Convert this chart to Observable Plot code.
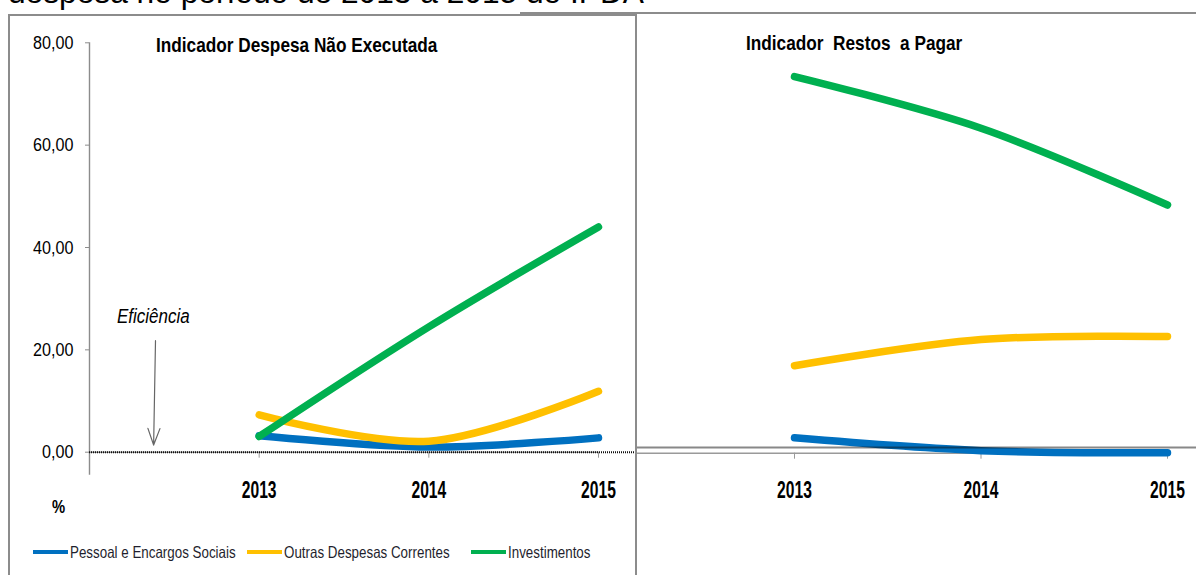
<!DOCTYPE html>
<html>
<head>
<meta charset="utf-8">
<script src="https://cdn.jsdelivr.net/npm/d3@7"></script>
<script src="https://cdn.jsdelivr.net/npm/@observablehq/plot@0.6"></script>
<style>
  html, body { margin: 0; padding: 0; background: #fff; }
  #wrap { position: relative; width: 1196px; height: 575px; overflow: hidden; background: #fff; }
  .txt { position: absolute; white-space: pre; color: #000; transform-origin: 0 0; }
  #leftBox { position: absolute; left: 8px; top: 14px; width: 629px; height: 570px; box-sizing: border-box;
             background: #fff; border-left: 2px solid #8c8c8c; border-top: 2px solid #8c8c8c; border-right: 2px solid #8c8c8c; z-index: 2; }
  #rightBox { position: absolute; left: 520px; top: 12px; width: 700px; height: 570px; box-sizing: border-box;
              background: #fff; border-top: 2px solid #8c8c8c; z-index: 1; }
  .plotHolder { position: absolute; left: 0; top: 0; }
  .legItem { position: absolute; display: flex; align-items: center; }
  .sw { width: 35px; height: 4px; margin-right: 2px; flex: none; }
  .legTxt { display: inline-block; white-space: pre; transform-origin: 0 50%; }
</style>
</head>
<body>
<div id="wrap">
  <div id="rightBox"><div class="plotHolder" id="rightPlot"></div></div>
  <div id="leftBox"><div class="plotHolder" id="leftPlot"></div></div>
</div>
<script>
// ---------- data ----------
const years = [2013, 2014, 2015];
const seriesNames = ["Pessoal e Encargos Sociais", "Outras Despesas Correntes", "Investimentos"];
const seriesColors = ["#0070C0", "#FFC000", "#00B050"];

// Indicador Despesa Não Executada (%)
const pessoalNaoExec = [3.2, 1.0, 2.8];
const outrasNaoExec = [7.3, 2.15, 11.9];
const investNaoExec = [3.07, 24.5, 44.0];

// Indicador Restos a Pagar (%)
const pessoalRestos = [3.0, 0.5, 0.1];
const outrasRestos = [17.1, 22.2, 22.8];
const investRestos = [73.6, 63.5, 48.5];

const yTicks = [0, 20, 40, 60, 80];
const xDomain = [2012, 2015];
const yAxisExtent = [-4.5, 80];
// "Eficiência" annotation arrow (data space of left chart)
const effArrow = [{x1: 2012.389, y1: 21.8, x2: 2012.378, y2: 1.4}];
// dotted efficiency line level as seen in the right chart
const effLevelRight = 1.1;

const titleLeft = "Indicador Despesa Não Executada";
const titleRight = "Indicador  Restos  a Pagar";
const headText = "despesa no período de 2013 a 2015 do IPDA";

// ---------- helpers ----------
const arial = "'Liberation Sans',Arial,sans-serif";
const NARROW = 0.82; // Arial Narrow ≈ Arial compressed horizontally

function rows(a, b, c) {
  const arrs = [a, b, c];
  return arrs.flatMap((arr, i) => arr.map((v, j) => ({year: years[j], value: v, series: seriesNames[i]})));
}
const fmt = d => d.toFixed(2).replace(".", ",");

function addText(parent, text, x, baseline, size, opts = {}) {
  const d = document.createElement("div");
  d.className = "txt";
  d.textContent = text;
  d.style.left = x + "px";
  d.style.fontSize = size + "px";
  d.style.lineHeight = size + "px";
  d.style.fontFamily = arial;
  d.style.fontWeight = opts.weight || "normal";
  d.style.fontStyle = opts.style || "normal";
  if (opts.color) d.style.color = opts.color;
  d.style.top = (baseline - 0.8465 * size) + "px";
  d.style.transform = `scaleX(${opts.sx ?? NARROW})`;
  d.style.zIndex = opts.z ?? 3;
  parent.appendChild(d);
  return d;
}

function squeeze(svg, selector, sx) {
  d3.select(svg).selectAll(selector).each(function () {
    const t = this.getAttribute("transform");
    if (t) {
      this.setAttribute("transform", t + ` scale(${sx},1)`);
    } else {
      const x = +this.getAttribute("x") || 0, y = +this.getAttribute("y") || 0;
      this.removeAttribute("x"); this.removeAttribute("y");
      this.setAttribute("transform", `translate(${x},${y}) scale(${sx},1)`);
    }
  });
}

function chart({data, width, height, xRange, yRange, mt, mb, ml, tickPad, extra}) {
  const svg = Plot.plot({
    width, height,
    marginLeft: ml, marginRight: 0, marginTop: mt, marginBottom: mb,
    style: {fontFamily: arial, fontSize: "19px", color: "black", background: "transparent", overflow: "visible"},
    x: {domain: xDomain, range: xRange},
    y: {domain: [0, 80], range: yRange},
    color: {domain: seriesNames, range: seriesColors},
    marks: [
      ...(extra.before || []),
      Plot.ruleY([0], {x1: xDomain[0], x2: xDomain[1], stroke: "#9a9a9a", strokeWidth: 1.6}),
      Plot.axisX({ticks: years, tickFormat: d => String(d), tickSize: 6, tickPadding: tickPad,
                  fontWeight: "bold", fontSize: 23, stroke: "#9a9a9a", label: null}),
      Plot.line(data, {x: "year", y: "value", z: "series", stroke: "series",
                       strokeWidth: 7.5, curve: "catmull-rom", strokeLinecap: "round"}),
      ...(extra.after || [])
    ]
  });
  squeeze(svg, '[aria-label="x-axis tick label"] text', 0.68);
  squeeze(svg, '[aria-label="y-axis tick label"] text', 0.85);
  return svg;
}

// ---------- left chart ----------
const leftSvg = chart({
  data: rows(pessoalNaoExec, outrasNaoExec, investNaoExec),
  width: 625, height: 559, ml: 79, mt: 26.3, mb: 123.3,
  xRange: [79, 588], yRange: [435.7, 26.3], tickPad: 23,
  extra: {
    before: [
      Plot.ruleX([xDomain[0]], {y1: yAxisExtent[0], y2: yAxisExtent[1], stroke: "#8c8c8c", strokeWidth: 1.4}),
      Plot.axisY({ticks: yTicks, tickFormat: fmt, tickSize: 4, tickPadding: 12, stroke: "#8c8c8c", fontSize: 19, label: null})
    ],
    after: [
      Plot.ruleY([0], {stroke: "#111", strokeWidth: 2, strokeDasharray: "1,1"}),
      Plot.arrow(effArrow, {x1: "x1", y1: "y1", x2: "x2", y2: "y2", stroke: "#666", strokeWidth: 1.2, headAngle: 40, headLength: 22})
    ]
  }
});
document.getElementById("leftPlot").appendChild(leftSvg);

// ---------- right chart ----------
const rightSvg = chart({
  data: rows(pessoalRestos, outrasRestos, investRestos),
  width: 676, height: 561, ml: 87.5, mt: 29.3, mb: 122.3,
  xRange: [87.5, 647], yRange: [438.7, 29.3], tickPad: 22,
  extra: {
    before: [],
    after: [Plot.ruleY([effLevelRight], {stroke: "#111", strokeWidth: 2, strokeDasharray: "1,1"})]
  }
});
document.getElementById("rightPlot").appendChild(rightSvg);

// ---------- texts (page coordinates) ----------
const wrap = document.getElementById("wrap");
addText(wrap, headText, 8, 3.5, 31.7, {sx: 1});
addText(wrap, titleLeft, 156, 52, 21, {weight: "bold"});
addText(wrap, titleRight, 746, 50, 21, {weight: "bold"});
addText(wrap, "%", 52, 513, 18, {weight: "bold"});
addText(wrap, "Eficiência", 117, 323, 20, {style: "italic", sx: 0.85});

// legend
const legX = [33, 247, 471];
seriesNames.forEach((name, i) => {
  const it = document.createElement("div");
  it.className = "legItem";
  it.style.left = legX[i] + "px";
  it.style.top = "542px";
  it.style.height = "20px";
  it.style.zIndex = 3;
  const sw = document.createElement("div");
  sw.className = "sw";
  sw.style.background = seriesColors[i];
  const t = document.createElement("span");
  t.className = "legTxt";
  t.textContent = name;
  t.style.fontFamily = arial;
  t.style.fontSize = "16.5px";
  t.style.color = "#1f1f2e";
  t.style.transform = "scaleX(0.81)";
  it.appendChild(sw); it.appendChild(t);
  wrap.appendChild(it);
});
</script>
</body>
</html>
